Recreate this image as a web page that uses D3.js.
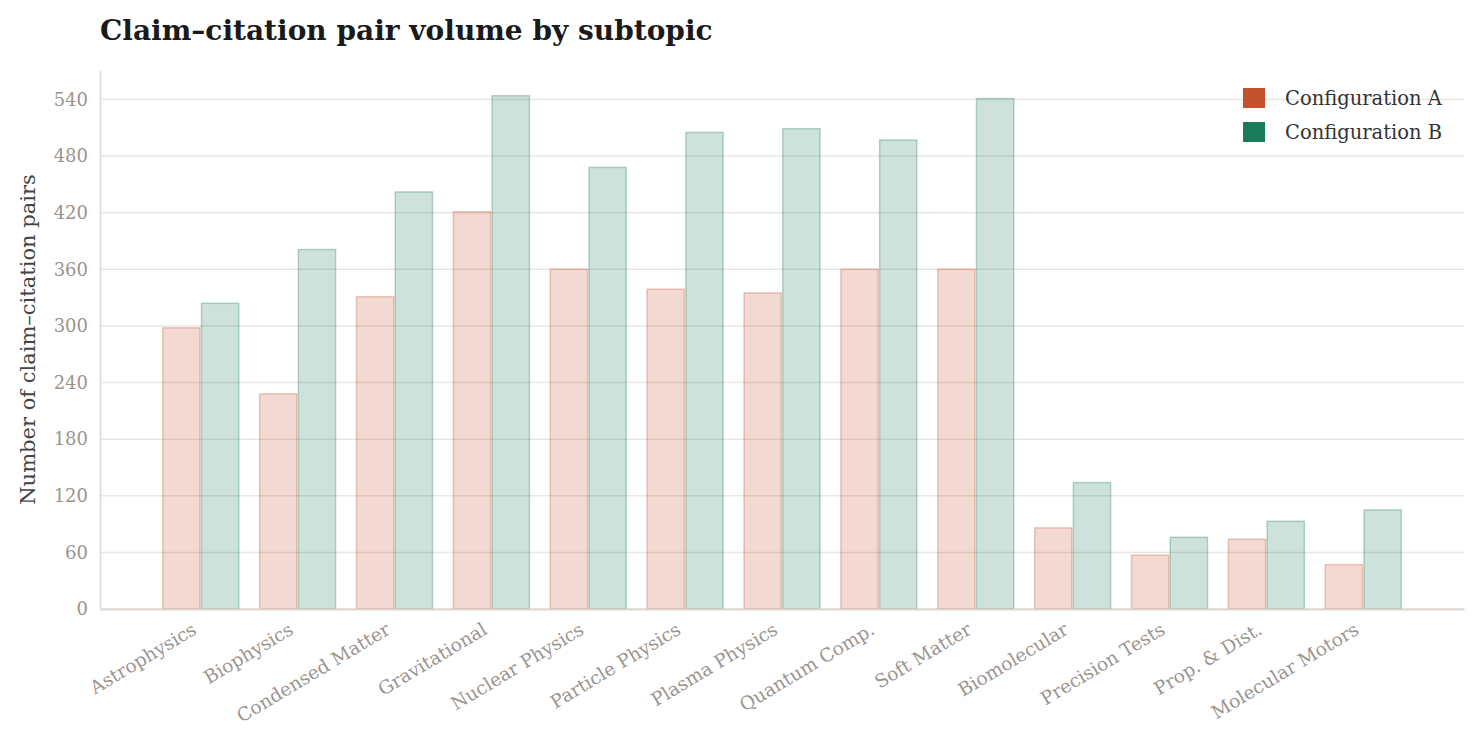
<!DOCTYPE html>
<html>
<head>
<meta charset="utf-8">
<script src="https://cdn.jsdelivr.net/npm/d3@7"></script>
<style>
  body { margin: 0; background: #fff; }
  svg { display: block; font-family: "DejaVu Serif", "Liberation Serif", serif; }
</style>
</head>
<body>
<svg id="chart" width="1480" height="746"></svg>
<script>
// subtopics along the x axis
const subtopics = ["Astrophysics", "Biophysics", "Condensed Matter", "Gravitational",
  "Nuclear Physics", "Particle Physics", "Plasma Physics", "Quantum Comp.",
  "Soft Matter", "Biomolecular", "Precision Tests", "Prop. & Dist.", "Molecular Motors"];

// pair counts
const configA = [298, 228, 331, 421, 360, 339, 335, 360, 360, 86, 57, 74, 47];
const configB = [324, 381, 442, 544, 468, 505, 509, 497, 541, 134, 76, 93, 105];

const seriesNames = ["Configuration A", "Configuration B"];
const seriesColors = ["#c4532d", "#1b7a5a"];
const yTicks = [0, 60, 120, 180, 240, 300, 360, 420, 480, 540];

const svg = d3.select("#chart");
const margin = { left: 100, right: 16, top: 70, bottom: 137 };
const W = 1480, H = 746;

const rows = subtopics.map((name, i) => ({ name, values: [configA[i], configB[i]] }));

const x = d3.scaleBand()
    .domain(subtopics)
    .range([margin.left, W - margin.right])
    .paddingInner(0.2)
    .paddingOuter(0.64);

const xSub = d3.scaleBand()
    .domain([0, 1])
    .range([0, x.bandwidth()]);

const yMax = d3.max(configB) * 1.05;
const y = d3.scaleLinear()
    .domain([0, yMax])
    .range([H - margin.bottom, margin.top]);

// title
svg.append("text")
    .attr("x", 100)
    .attr("y", 40)
    .attr("font-size", 28)
    .attr("font-weight", "bold")
    .attr("fill", "#1a1a1a")
    .text("Claim\u2013citation pair volume by subtopic");

// gridlines
svg.append("g")
    .selectAll("line")
    .data(yTicks)
    .join("line")
    .attr("x1", margin.left)
    .attr("x2", W - margin.right)
    .attr("y1", d => y(d))
    .attr("y2", d => y(d))
    .attr("stroke", "#ebe6e1")
    .attr("stroke-width", 1.5);

// y axis
const yAxis = svg.append("g")
    .attr("transform", `translate(${margin.left},0)`)
    .call(d3.axisLeft(y).tickValues(yTicks).tickSize(0).tickPadding(12));
yAxis.select(".domain").attr("stroke", "#ddd6d1").attr("stroke-width", 1.5);
yAxis.selectAll("text")
    .attr("font-family", "DejaVu Serif, serif")
    .attr("font-size", 18)
    .attr("fill", "#9a948f");

svg.append("text")
    .attr("transform", `translate(35,${(margin.top + H - margin.bottom) / 2}) rotate(-90)`)
    .attr("text-anchor", "middle")
    .attr("font-size", 21)
    .attr("fill", "#444")
    .text("Number of claim\u2013citation pairs");

// bars
const group = svg.append("g")
    .selectAll("g")
    .data(rows)
    .join("g")
    .attr("transform", d => `translate(${x(d.name)},0)`);

group.selectAll("rect")
    .data(d => d.values.map((v, i) => ({ v, i })))
    .join("rect")
    .attr("x", d => xSub(d.i) + 0.75)
    .attr("y", d => y(d.v))
    .attr("width", xSub.bandwidth() - 1.5)
    .attr("height", d => y(0) - y(d.v))
    .attr("fill", d => seriesColors[d.i])
    .attr("fill-opacity", 0.22)
    .attr("stroke", d => seriesColors[d.i])
    .attr("stroke-opacity", 0.3)
    .attr("stroke-width", 1.5);

// x axis
const xAxis = svg.append("g")
    .attr("transform", `translate(0,${y(0)})`)
    .call(d3.axisBottom(x).tickSize(0).tickPadding(0));
xAxis.select(".domain").attr("stroke", "#ddd6d1").attr("stroke-width", 2);
xAxis.selectAll("text")
    .attr("font-family", "DejaVu Serif, serif")
    .attr("font-size", 18.5)
    .attr("fill", "#9a948f")
    .attr("text-anchor", "end")
    .attr("dy", null)
    .attr("transform", "translate(-3,24) rotate(-31)");

// legend
const legend = svg.append("g")
    .selectAll("g")
    .data(seriesNames)
    .join("g")
    .attr("transform", (d, i) => `translate(1243,${88 + i * 34})`);

legend.append("rect")
    .attr("width", 22)
    .attr("height", 20)
    .attr("fill", (d, i) => seriesColors[i]);

legend.append("text")
    .attr("x", 42)
    .attr("y", 17)
    .attr("font-size", 19.5)
    .attr("fill", "#333")
    .text(d => d);
</script>
</body>
</html>
